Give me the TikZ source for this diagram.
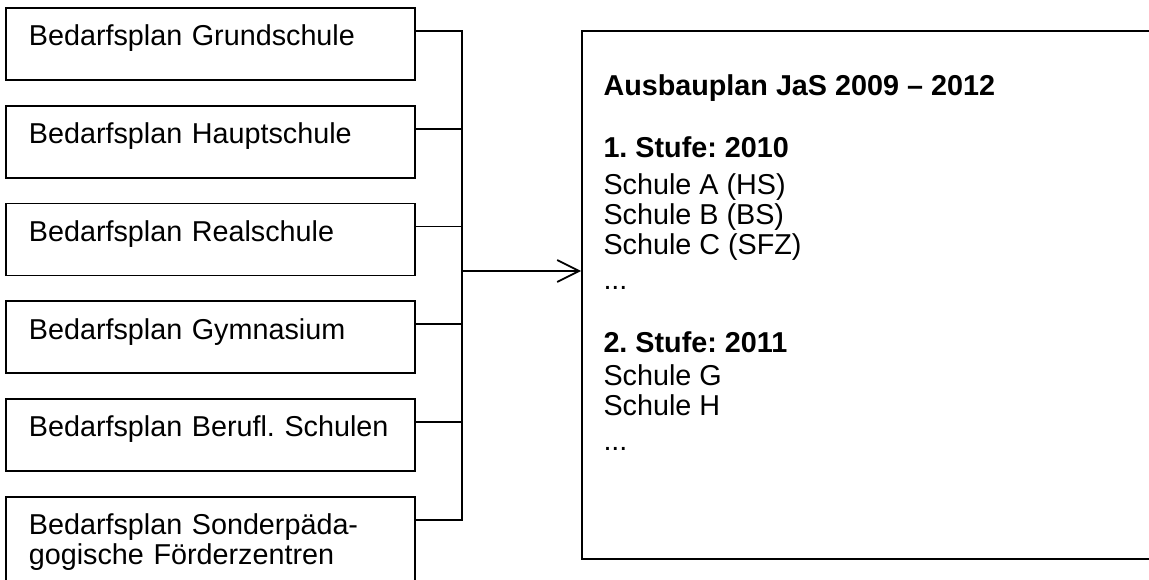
\documentclass[tikz,border=0pt]{standalone}
\usepackage{fontspec}
\setmainfont{Liberation Sans}
\usepackage{tikz}
\usetikzlibrary{arrows.meta}
\usetikzlibrary{positioning}
\tikzset{bedarf node/.style={rectangle,draw,line width=0.7pt,anchor=north west,text width=149.2pt,align=left,inner xsep=7.2pt,inner ysep=0pt,text height=15.2pt,text depth=13.6pt},
	ausbau node/.style={rectangle,draw,line width=0.7pt,minimum width=243.2pt,minimum height=211.2pt,inner sep=0pt},
	link/.style={line width=0.7pt},
}

\begin{document}
\begin{tikzpicture}[x=0.4pt,y=-0.4pt,node distance=9.6pt,font=\fontsize{11.5}{12}\selectfont\frenchspacing]
		\useasboundingbox (0,0) rectangle (1149,580);
		\clip (0,0) rectangle (1149,580);
		\node[bedarf node] (1) at (5,7) {\hspace*{2pt}Bedarfsplan Grundschule};
		\node[bedarf node] (2) [below = of 1] {\hspace*{2pt}Bedarfsplan Hauptschule};
		\node[bedarf node] (3) [below = of 2] {\hspace*{2pt}Bedarfsplan Realschule};
		\node[bedarf node] (4) [below = of 3] {\hspace*{2pt}Bedarfsplan Gymnasium};
		\node[bedarf node] (5) [below = of 4] {\hspace*{2pt}Bedarfsplan Berufl. Schulen};
		\node[bedarf node,text depth=26.4pt] (6) [below = of 5] {\hspace*{2pt}Bedarfsplan Sonderpäda-\\\hspace*{2pt}gogische Förderzentren};
		
		\node[ausbau node] (plan) at (886,295) {};
		\node[anchor=north west,inner sep=0pt,align=left] (plantext) at (603,74) {\textbf{Ausbauplan JaS 2009 -- 2012}\\[12.8pt]
			\textbf{1. Stufe: 2010}\\[2.8pt]
			Schule A (HS)\\
			Schule B (BS)\\
			Schule C (SFZ)\\[2pt]
			...\\[13.2pt]
			\textbf{2. Stufe: 2011}\\[1.2pt]
			Schule G\\
			Schule H\\[2pt]
			...};
		%%
		\coordinate (join) at (462,271);
		\foreach \i in {1,...,6}
			\coordinate (s\i) at ([yshift=-9.6pt]\i.north east);
		\draw[link] (s1) -- (s1 -| join) -- (s6 -| join) -- (s6);
		\foreach \i in {2,...,5}
			\draw[link] (s\i) -- (s\i -| join);
		\draw[link,-{Straight Barb[length=8.8pt,width=8.8pt]}] (join) -- (join -| plan.west);
	\end{tikzpicture}
\end{document}
